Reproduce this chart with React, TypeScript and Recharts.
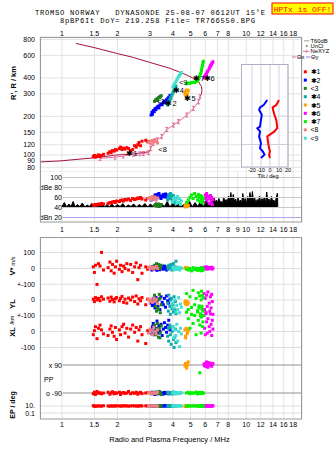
import React from 'react';
import { ScatterChart, ComposedChart, Scatter, Area, XAxis, YAxis, CartesianGrid, ReferenceLine } from 'recharts';

const SANS = '"Liberation Sans", Arial, sans-serif';
const MONO = '"Liberation Mono", "DejaVu Sans Mono", monospace';
const F_MIN = 0.76;
const F_MAX = 20.1;

const topFreqTicks = [1, 1.5, 2, 3, 4, 5, 6, 7, 8, 10, 12, 14, 16, 18];
const midFreqTicks = [1, 1.5, 2, 3, 4, 5, 6, 7, 8, 9, 10, 12, 14, 16, 18];
const bottomFreqTicks = [1, 1.5, 2, 3, 4, 5, 6, 7, 8, 10, 12, 14, 16, 18];
const heightTicks = [80, 90, 100, 120, 150, 200, 300, 400, 600, 800];
const dbTicks = [100, 80, 60, 40, 20];
const dbTickNames: Record<number, string> = { 100: '100', 80: 'dBe 80', 60: '60', 40: '40', 20: 'dBn 20' };
const tiltTicks = [-20, -10, 0, 10, 20];

const echoNames = ['✱1', '✱2', '<3', '✱4', '✱5', '✱6', '✱7', '<8', '<9'];
const echoColors = ['#ff0000', '#0000ff', '#208020', '#10a8a8', '#ffa000', '#ff00ff', '#00f000', '#f08080', '#40e0d0'];

// [freq MHz, virtual height km, amplitude dB, V* m/s, YL km, XL km, PP deg, EP deg]
type Row = [number, number, number, number, number, number, number, number];
const echo1: Row[] = [
  [1.48, 97, 45, 10, 5, -20, -95, 12], [1.5, 99, 44, -25, -10, 5, -85, 8], [1.52, 96, 46, 20, 15, 30, -100, 10],
  [1.55, 98, 45, -100, 0, -45, -80, 9], [1.58, 100, 47, 30, 10, 20, -92, 11], [1.61, 97, 46, 15, -5, 40, -88, 10],
  [1.64, 99, 48, 100, 20, 10, -95, 9], [1.68, 101, 47, -10, 5, -15, -90, 12], [1.78, 103, 48, 5, 12, -25, -85, 10],
  [1.82, 106, 50, 40, -8, 15, -98, 9], [1.85, 104, 49, -15, 18, 35, -90, 11], [1.88, 108, 51, 25, 3, -5, -82, 10],
  [1.92, 107, 52, -30, -12, -30, -95, 9], [1.95, 110, 50, 10, 8, 25, -88, 12], [1.98, 109, 53, 45, 15, -50, -92, 10],
  [2.05, 112, 52, -5, -5, 10, -85, 11], [2.08, 115, 54, 20, 10, -20, -100, 9], [2.12, 110, 55, -20, 22, 30, -90, 10],
  [2.16, 113, 53, 15, -15, 45, -87, 12], [2.2, 111, 56, 0, 5, -10, -93, 10], [2.25, 114, 55, 30, -20, 20, -90, 11],
  [2.3, 112, 57, -10, 12, -35, -80, 9], [2.36, 108, 54, 25, 0, 15, -95, 10], [2.42, 110, 58, -25, 18, 40, -88, 12],
  [2.48, 118, 56, 10, -10, -5, -92, 10], [2.53, 115, 57, 35, 25, 25, -85, 11], [2.58, 120, 59, -70, -25, -60, -98, 9],
  [2.62, 125, 58, 5, 8, 10, -90, 10], [2.67, 118, 60, 20, -5, 30, -86, 12], [2.72, 128, 57, -30, 15, -20, -94, 10],
  [2.85, 130, 55, 10, -30, -75, -90, 11], [2.92, 127, 58, -5, 5, 5, -88, 10],
];
const echo2: Row[] = [
  [3.05, 205, 55, 5, -20, 10, -90, 10], [3.08, 215, 58, -10, -5, -15, -95, 9], [3.1, 208, 60, 10, -35, 30, -85, 11],
  [3.13, 222, 62, 0, 10, 50, -92, 10], [3.17, 218, 57, 15, -25, -20, -88, 12], [3.2, 230, 65, -5, -50, 5, -100, 10],
  [3.24, 226, 63, 8, 15, 20, -90, 9], [3.28, 235, 66, -12, -10, 65, -85, 11], [3.32, 240, 60, 5, -40, -10, -95, 10],
  [3.36, 233, 68, 12, 5, 35, -90, 12], [3.4, 245, 64, -8, -60, 0, -88, 10], [3.45, 250, 58, 0, 20, 45, -92, 11],
  [3.5, 247, 62, 10, -15, -25, -90, 9], [3.55, 258, 66, -5, -30, 15, -97, 10], [3.6, 262, 61, 15, 10, 55, -86, 12],
  [3.65, 255, 67, 3, -45, 25, -93, 10], [3.7, 270, 63, -10, 25, -5, -90, 11], [3.75, 275, 59, 8, -5, 40, -88, 10],
  [3.8, 282, 65, 0, -20, 70, -95, 9], [3.86, 292, 60, 12, 5, 10, -90, 11],
];
const echo3: Row[] = [
  [3.18, 262, 44, 20, 30, 40, -90, 10], [3.22, 268, 46, 10, -40, -20, -85, 9], [3.26, 272, 43, 30, -70, 15, -95, 11],
  [3.3, 275, 45, 5, 0, 50, -88, 10], [3.34, 280, 47, 25, -60, -35, -92, 12], [3.38, 283, 42, 15, 35, 20, -80, 10],
  [3.42, 287, 44, 0, -80, -10, -90, 11], [3.46, 290, 46, 20, -30, 35, -100, 9], [3.3, 268, 43, 12, -50, 5, -86, 10],
  [3.4, 280, 45, 8, 10, -40, -94, 11],
];
const echo4: Row[] = [
  [3.75, 245, 55, 10, -20, -30, -90, 10], [3.78, 255, 60, -5, -70, 20, -85, 12], [3.8, 262, 65, 20, 30, -60, -95, 9],
  [3.85, 270, 58, 5, -40, 40, -90, 11], [3.88, 280, 68, 15, -90, -20, -88, 10], [3.92, 288, 62, 25, 10, -80, -92, 11],
  [3.96, 295, 55, -10, -55, 0, -97, 9], [4.0, 305, 50, 8, -30, 30, -90, 10], [4.03, 312, 64, 30, -75, -50, -84, 12],
  [4.06, 320, 59, 0, 20, -100, -93, 10], [4.1, 330, 52, 12, -60, -35, -90, 11], [4.13, 338, 48, -5, -10, 15, -88, 9],
  [4.16, 345, 57, 45, -85, -70, -95, 10], [3.9, 275, 66, 18, 0, 25, -91, 11],
];
const echo5: Row[] = [
  [4.65, 300, 43, 2, -15, 10, 85, 8], [4.68, 310, 45, 5, -25, -30, 100, 10], [4.72, 318, 42, 0, -10, 20, 80, 9],
  [4.78, 322, 46, 3, -30, -15, 95, 11], [4.85, 318, 44, -2, -20, 5, 110, 10], [4.7, 295, 41, 4, -5, -40, 90, 9],
  [4.75, 290, 47, 1, -28, 15, 70, 12], [4.8, 300, 43, 3, -12, -5, 88, 10],
];
const echo6: Row[] = [
  [5.9, 400, 50, 5, 40, 100, 95, 10], [5.95, 410, 58, -3, -60, 20, 85, 12], [6.0, 418, 65, 8, 10, -20, 100, 9],
  [6.05, 425, 60, 0, -85, 120, 80, 11], [6.1, 435, 68, 10, 30, 60, 110, 10], [6.15, 445, 55, -5, -40, -10, 90, 12],
  [6.2, 455, 62, 3, 50, 80, 75, 9], [6.3, 470, 48, 6, -20, 30, 105, 11], [6.35, 485, 58, -2, -70, 0, 92, 10],
  [6.4, 495, 64, 4, 20, 110, 88, 12], [6.45, 505, 52, 0, -50, 45, 98, 9], [6.5, 515, 60, 7, 35, -25, 82, 11],
  [6.55, 525, 46, -4, -10, 70, 95, 10], [6.6, 535, 56, 2, -90, 15, 100, 12],
];
const echo7: Row[] = [
  [4.75, 360, 50, -5, 40, 120, -90, 10], [4.85, 365, 55, -10, -60, 80, -85, 12], [4.95, 362, 60, 0, 20, 20, -95, 9],
  [5.05, 368, 65, -15, -90, 150, -88, 11], [5.15, 370, 58, 5, 60, 50, -92, 10], [5.25, 368, 68, -8, -30, 100, -90, 12],
  [5.35, 375, 62, 2, 10, -20, -84, 9], [5.45, 380, 55, -12, -75, 130, -96, 11], [5.5, 390, 66, -5, 45, 70, -90, 10],
  [5.55, 400, 60, 0, -50, 160, -87, 12], [5.6, 415, 52, -10, 25, 40, 40, 10], [5.65, 430, 64, -3, -100, 110, -93, 9],
  [5.7, 445, 57, -15, 0, -10, -90, 11], [5.72, 460, 50, 5, 55, 90, -86, 10], [5.75, 480, 62, -8, -40, 140, -94, 12],
  [5.8, 500, 56, 0, 30, 30, -90, 9], [5.82, 520, 49, -12, -70, 60, -88, 11], [5.85, 540, 58, -5, 15, 100, -92, 10],
];
const echo8: Row[] = [
  [2.95, 125, 58, 5, 5, -10, -90, 10], [3.0, 128, 60, 10, -10, 15, -85, 11], [3.05, 122, 56, 0, 0, 5, -95, 9],
  [3.1, 130, 62, 8, -15, -20, -90, 10], [3.15, 126, 57, -5, 10, 25, -88, 12], [3.2, 132, 61, 5, -5, 0, -92, 10],
  [3.25, 128, 55, 12, 5, -15, -90, 11], [3.3, 124, 59, 0, -20, 10, -86, 9],
];
const echo9: Row[] = [
  [4.0, 340, 52, 5, -20, 30, -90, 10], [4.05, 350, 58, -8, -50, -40, -85, 11], [4.1, 360, 60, 10, 0, 10, -95, 9],
  [4.15, 372, 55, 0, -75, -25, -90, 12], [4.2, 385, 48, -5, -35, 45, -88, 10], [4.25, 398, 62, 8, -60, -60, -92, 11],
  [4.3, 410, 50, 3, 15, 0, -86, 10], [4.35, 420, 57, -10, -80, -95, -94, 9], [4.4, 430, 46, 5, -25, 20, -90, 11],
  [4.45, 440, 53, 0, -45, -15, -88, 10],
];
const echoes = [echo1, echo2, echo3, echo4, echo5, echo6, echo7, echo8, echo9];

// echo label positions [freq, height]
const echoLabels: [number, number, string][] = [
  [2.4, 103, '✱1'], [3.52, 112, '<8'], [3.91, 253, '✱2'], [3.45, 262, '<3'], [4.28, 322, '✱4'],
  [4.55, 372, '<9'], [4.96, 276, '✱5'], [5.55, 397, '✱7'], [6.3, 397, '✱6'],
];

// model profile (plasma frequency, real height)
const profileBottom: [number, number][] = [[0.75, 88], [0.975, 89.7], [1.51, 95], [1.98, 99.8], [2.44, 101.7], [2.99, 106], [3.03, 112]];
const profileTop: [number, number][] = [
  [5.62, 285], [5.72, 300], [5.75, 318], [5.73, 341], [5.51, 373], [5.17, 397], [4.76, 421], [4.3, 447],
  [3.86, 475], [2.99, 529], [2.44, 578], [1.98, 622], [1.51, 688], [1.19, 744],
];
const nexyz: [number, number][] = [
  [1.61, 94], [1.94, 96], [2.15, 98], [2.44, 101], [2.65, 102], [2.77, 102.5], [2.95, 104], [3.03, 112],
  [3.13, 123], [3.3, 131], [3.48, 139], [3.71, 158], [4.03, 171], [4.29, 182], [4.76, 205], [5.17, 231],
  [5.51, 260], [5.62, 285],
];

// tilt inset (height km, tilt deg)
const tiltHeights = [268, 245, 235, 224, 205, 187, 166, 161, 152, 139, 123, 112, 106, 100, 94];
const tiltX = [10, 7, 3, 3.5, 5, 7, 8, 8, 5, -3, -2, -1, 0, -1, 0];
const tiltY = [-3, -7, -11, -12, -9, -10, -11, -14, -11, -12, -10, -11, -8, -6, -10];

// receiver noise
const noiseFreq = [
  1.0, 1.03, 1.06, 1.09, 1.12, 1.15, 1.18, 1.21, 1.25, 1.29, 1.33, 1.37, 1.41, 1.45, 1.5, 1.55, 1.6, 1.65, 1.7,
  1.75, 1.81, 1.87, 1.93, 2.0, 2.07, 2.14, 2.21, 2.29, 2.37, 2.45, 2.54, 2.63, 2.72, 2.82, 2.92, 3.02, 3.13, 3.24,
  3.36, 3.48, 3.6, 3.73, 3.86, 4.0, 4.14, 4.29, 4.44, 4.6, 4.76, 4.93, 5.1, 5.28, 5.47, 5.66, 5.86, 6.07, 6.28, 6.5,
  6.6, 6.7, 6.8, 6.9, 7.0, 7.11, 7.22, 7.33, 7.44, 7.55, 7.66, 7.78, 7.9, 8.02, 8.14, 8.26, 8.38, 8.51, 8.64, 8.77,
  8.9, 9.03, 9.17, 9.31, 9.45, 9.59, 9.73, 9.88, 10.03, 10.18, 10.33, 10.49, 10.65, 10.81, 10.97, 11.13, 11.3,
  11.47, 11.64, 11.82, 12.0, 12.18, 12.36, 12.55, 12.74, 12.93, 13.12, 13.32, 13.52, 13.72, 13.93, 14.14, 14.35,
  14.57, 14.79, 14.85,
];
const noiseLevel = [
  42, 50, 41, 47, 42, 52, 41, 46, 42, 49, 41, 45, 42, 48, 41, 46, 42, 51, 41, 45, 42, 47, 41, 46, 42, 48, 41, 45,
  42, 47, 41, 46, 42, 48, 41, 47, 42, 50, 41, 48, 42, 52, 41, 49, 42, 51, 41, 47, 42, 52, 41, 50, 42, 53, 41, 55,
  42, 57, 48, 60, 50, 55, 49, 58, 51, 52, 48, 61, 52, 56, 50, 63, 53, 70, 49, 66, 52, 57, 48, 60, 51, 55, 49, 68,
  52, 58, 48, 62, 53, 70, 50, 72, 52, 59, 48, 56, 51, 63, 49, 58, 52, 61, 48, 71, 51, 57, 49, 62, 52, 55, 48, 60,
  69, 42,
];
const NOISE_FLOOR = 41;

// lower panel row layout (units of m/s, stacked rows)
const LOWER_TOP = 1137.5;
const V_ZERO = 941;
const YL_ZERO = 744;
const XL_ZERO = 547;
const PP_MID = 250;
const PP_SCALE = 0.972;
const EP_BASE = 37.5;
const EP_DECADE = 21.9;
const lowerTicks = [
  { u: 1041, label: '100' }, { u: 941, label: '0' }, { u: 842.5, label: '+-100' }, { u: 744, label: '0' },
  { u: 645.5, label: '+-100' }, { u: 547, label: '0' }, { u: 447, label: '-100' },
  { u: 337.5, label: 'x 90', inner: true }, { u: 162.5, label: 'o -90', inner: true },
  { u: 81.3, label: '10.' }, { u: 37.5, label: '0.1' },
];

const mainPts = echoes.map((e) => e.map((r) => ({ x: r[0], y: r[1] })));
const ampPts = echoes.map((e) => e.map((r) => ({ x: r[0], y: r[2] })));
const lowerPts = echoes.map((e) =>
  e.flatMap((r) => [
    { x: r[0], y: V_ZERO + r[3] },
    { x: r[0], y: YL_ZERO + r[4] },
    { x: r[0], y: XL_ZERO + r[5] },
    { x: r[0], y: PP_MID + r[6] * PP_SCALE },
    { x: r[0], y: EP_BASE + (Math.log10(r[7]) + 1) * EP_DECADE },
  ])
);
const toXY = (a: [number, number][]) => a.map(([x, y]) => ({ x, y }));
const noisePts = noiseFreq.map((f, i) => ({ x: f, y: noiseLevel[i] }));
const tiltXPts = tiltHeights.map((h, i) => ({ x: tiltX[i], y: h }));
const tiltYPts = tiltHeights.map((h, i) => ({ x: tiltY[i], y: h }));
const labelPts = echoLabels.map(([x, y, t]) => ({ x, y, t }));

const square = (color: string, s: number) => (p: any) =>
  <rect x={p.cx - s / 2} y={p.cy - s / 2} width={s} height={s} fill={color} />;
const noShape = () => <g />;
const iMark = (p: any) => (
  <g stroke="#e0709a" strokeWidth={1}>
    <line x1={p.cx} y1={p.cy - 2} x2={p.cx} y2={p.cy + 2} />
    <line x1={p.cx - 1.5} y1={p.cy - 2} x2={p.cx + 1.5} y2={p.cy - 2} />
    <line x1={p.cx - 1.5} y1={p.cy + 2} x2={p.cx + 1.5} y2={p.cy + 2} />
  </g>
);
const labelShape = (p: any) => (
  <text x={p.cx} y={p.cy + 3} textAnchor="middle" fontSize={7.5} fontFamily={SANS} fill="#000">{p.payload.t}</text>
);

const freqTick = (baseY: number) => (p: any) => (
  <text x={p.x} y={baseY} textAnchor="middle" fontSize={7} fontFamily={SANS} fill="#000">{p.payload.value}</text>
);
const heightTick = (p: any) => (
  <text x={35} y={p.y + 2.5} textAnchor="end" fontSize={7} fontFamily={SANS} fill="#000">{p.payload.value}</text>
);
const dbTick = (p: any) => (
  <text x={62} y={p.y + 2.5} textAnchor="end" fontSize={7} fontFamily={SANS} fill="#000">{dbTickNames[p.payload.value]}</text>
);
const lowerTick = (p: any) => {
  const t = lowerTicks.find((k) => k.u === p.payload.value);
  return (
    <text x={t && t.inner ? 62 : 35} y={p.y + 2.5} textAnchor="end" fontSize={7} fontFamily={SANS} fill="#000">
      {t ? t.label : ''}
    </text>
  );
};
const tiltTick = (p: any) => (
  <text x={p.x} y={107} textAnchor="middle" fontSize={5.5} fontFamily={SANS} fill="#000">{p.payload.value}</text>
);

const MARGIN = { top: 0, right: 33, bottom: 0, left: 0 };
const GRID = '#e2e2e2';

const MainPanel = () => (
  <ScatterChart width={335} height={172} margin={{ ...MARGIN, top: 7 }}>
    <CartesianGrid stroke={GRID} />
    <XAxis type="number" dataKey="x" scale="log" domain={[F_MIN, F_MAX]} ticks={topFreqTicks} orientation="top"
      height={30} interval={0} allowDataOverflow axisLine={false} tickLine={false} tick={freqTick(35.5)} />
    <YAxis type="number" dataKey="y" scale="log" domain={[73.5, 835]} ticks={heightTicks} width={40} interval={0}
      allowDataOverflow axisLine={false} tickLine={false} tick={heightTick} />
    <Scatter data={toXY(profileBottom)} line={{ stroke: '#a3123f', strokeWidth: 1 }} shape={noShape} isAnimationActive={false} />
    <Scatter data={toXY(profileTop)} line={{ stroke: '#a3123f', strokeWidth: 1 }} shape={noShape} isAnimationActive={false} />
    <Scatter data={toXY(nexyz)} line={{ stroke: '#e0709a', strokeWidth: 1 }} shape={iMark} isAnimationActive={false} />
    {mainPts.map((d, i) => (
      <Scatter key={i} data={d} shape={square(echoColors[i], 3)} isAnimationActive={false} />
    ))}
    <Scatter data={labelPts} shape={labelShape} isAnimationActive={false} />
  </ScatterChart>
);

const TiltInset = () => (
  <ScatterChart width={52} height={116} margin={{ top: 0, right: 4, bottom: 0, left: 2 }}>
    <CartesianGrid stroke="#d0d0dc" horizontalValues={heightTicks} verticalValues={tiltTicks} />
    <XAxis type="number" dataKey="x" domain={[-31, 20]} ticks={tiltTicks} height={14} interval={0}
      allowDataOverflow axisLine={false} tickLine={false} tick={tiltTick} />
    <YAxis type="number" dataKey="y" scale="log" domain={[80, 504]} ticks={heightTicks} hide allowDataOverflow />
    <Scatter data={tiltXPts} line={{ stroke: '#ff0000', strokeWidth: 2 }} shape={noShape} isAnimationActive={false} />
    <Scatter data={tiltYPts} line={{ stroke: '#0000ff', strokeWidth: 2 }} shape={noShape} isAnimationActive={false} />
  </ScatterChart>
);

const DbPanel = () => (
  <ComposedChart width={335} height={66} margin={MARGIN}>
    <CartesianGrid stroke={GRID} horizontal={false} />
    <XAxis type="number" dataKey="x" scale="log" domain={[F_MIN, F_MAX]} ticks={midFreqTicks} height={16}
      interval={0} allowDataOverflow axisLine={false} tickLine={false} tick={freqTick(59.7)} />
    <YAxis type="number" dataKey="y" domain={[11, 111]} ticks={dbTicks} width={40} interval={0}
      allowDataOverflow axisLine={false} tickLine={false} tick={dbTick} />
    {dbTicks.map((t) => (
      <ReferenceLine key={t} segment={[{ x: 1.01, y: t }, { x: F_MAX, y: t }]}
        stroke={t === 20 ? '#a8a8f0' : '#c8c8c8'} />
    ))}
    <Area data={noisePts} dataKey="y" type="linear" baseValue={NOISE_FLOOR} stroke="#000" strokeWidth={1}
      fill="#000" fillOpacity={1} dot={false} activeDot={false} isAnimationActive={false} />
    {ampPts.map((d, i) => (
      <Scatter key={i} data={d} shape={square(echoColors[i], 3)} isAnimationActive={false} />
    ))}
  </ComposedChart>
);

const LowerPanel = () => (
  <ScatterChart width={335} height={214} margin={MARGIN}>
    <CartesianGrid stroke={GRID} horizontal={false} />
    <XAxis type="number" dataKey="x" scale="log" domain={[F_MIN, F_MAX]} ticks={bottomFreqTicks} height={32}
      interval={0} allowDataOverflow axisLine={false} tickLine={false} tick={freqTick(189.7)} />
    <YAxis type="number" dataKey="y" domain={[0, LOWER_TOP]} ticks={lowerTicks.map((t) => t.u)} width={40}
      interval={0} allowDataOverflow axisLine={false} tickLine={false} tick={lowerTick} />
    {lowerTicks.map((t) => (
      <ReferenceLine key={t.u}
        segment={[{ x: t.inner ? 1.01 : F_MIN, y: t.u }, { x: F_MAX, y: t.u }]}
        stroke={t.inner ? '#909090' : '#dcdcdc'} />
    ))}
    {lowerPts.map((d, i) => (
      <Scatter key={i} data={d} shape={square(echoColors[i], 3)} isAnimationActive={false} />
    ))}
  </ScatterChart>
);

const legendLines = ['T60dB', 'UnCl', 'NeXYZ'];

const Overlay = () => (
  <svg width={335} height={451} style={{ position: 'absolute', left: 0, top: 0, pointerEvents: 'none' }}>
    <text x={35} y={14.8} fontSize={7.2} fontFamily={MONO} fill="#000" textLength={230} lengthAdjust="spacing"
      style={{ whiteSpace: 'pre' }}>
      TROMSO NORWAY   DYNASONDE 25-08-07 0612UT 15°E
    </text>
    <text x={60} y={23.2} fontSize={7.2} fontFamily={MONO} fill="#000" textLength={195} lengthAdjust="spacing"
      style={{ whiteSpace: 'pre' }}>
      8pBP6It DoY= 219.258 File= TR766550.BPG
    </text>
    <rect x={272} y={3} width={61} height={11} fill="#ffff00" stroke="#ff0000" strokeWidth={1} />
    <text x={302.5} y={11.8} textAnchor="middle" fontSize={8} fontFamily={MONO} fill="#ff0000">HPTx is OFF!</text>

    <rect x={40.5} y={37.5} width={261} height={184.5} fill="none" stroke="#9a9a9a" />
    <rect x={40.5} y={237.5} width={261} height={181.5} fill="none" stroke="#9a9a9a" />
    <rect x={241.5} y={64.5} width={46.5} height={102.5} fill="none" stroke="#b0b0c8" />
    <text x={268} y={177.5} textAnchor="middle" fontSize={5.5} fontFamily={SANS} fill="#000">Tilt / deg</text>

    <g fontFamily={SANS} fontWeight="bold" fill="#000">
      <text transform="translate(16,83) rotate(-90)" textAnchor="middle" fontSize={7.5}>R', R / km</text>
      <text transform="translate(15,266) rotate(-90)" textAnchor="middle" fontSize={7.5}>
        V* <tspan fontSize={5.5} fontWeight="normal">m/s</tspan>
      </text>
      <text transform="translate(15,304) rotate(-90)" textAnchor="middle" fontSize={7.5}>YL</text>
      <text transform="translate(14,320) rotate(-90)" textAnchor="middle" fontSize={5.5} fontWeight="normal">/km</text>
      <text transform="translate(15,332) rotate(-90)" textAnchor="middle" fontSize={7.5}>XL</text>
      <text transform="translate(15,405) rotate(-90)" textAnchor="middle" fontSize={7}>EP / deg</text>
    </g>
    <text x={44} y={382} fontSize={7} fontFamily={SANS} fill="#000">PP</text>
    <text x={169.5} y={442} textAnchor="middle" fontSize={7.5} fontFamily={SANS} fill="#000">
      Radio and Plasma Frequency / MHz
    </text>

    <g fontFamily={SANS} fontSize={5.8} fill="#000">
      {legendLines.map((name, i) => (
        <text key={name} x={310.5} y={42.8 + i * 5.3}>{name}</text>
      ))}
      <line x1={304} y1={40.8} x2={309.5} y2={40.8} stroke="#a0a0a0" />
      <circle cx={306.8} cy={46} r={0.7} fill="#000" />
      <line x1={303} y1={51.3} x2={309.5} y2={51.3} stroke="#e0709a" />
      <line x1={306.3} y1={49.8} x2={306.3} y2={52.8} stroke="#e0709a" />
      <line x1={292} y1={57} x2={296.5} y2={57} stroke="#e0709a" />
      <text x={297} y={59}>Θx</text>
      <line x1={306} y1={57} x2={310.5} y2={57} stroke="#8080ff" />
      <text x={311} y={59}>Θy</text>
    </g>
    <g fontFamily={SANS} fontSize={7} fill="#000">
      {echoNames.map((name, i) => (
        <g key={name}>
          <rect x={303.8} y={70.3 + i * 8.3} width={3} height={3} fill={echoColors[i]} />
          <text x={310.5} y={74.3 + i * 8.3}>{name}</text>
        </g>
      ))}
    </g>
  </svg>
);

export default function App() {
  return (
    <div style={{ position: 'absolute', left: 0, top: 0, width: 335, height: 451, background: '#fff', overflow: 'hidden' }}>
      <div style={{ position: 'absolute', left: 0, top: 0 }}><MainPanel /></div>
      <div style={{ position: 'absolute', left: 242, top: 65, width: 46, height: 102, background: '#fff' }} />
      <div style={{ position: 'absolute', left: 240, top: 65 }}><TiltInset /></div>
      <div style={{ position: 'absolute', left: 0, top: 172 }}><DbPanel /></div>
      <div style={{ position: 'absolute', left: 0, top: 237 }}><LowerPanel /></div>
      <Overlay />
    </div>
  );
}
